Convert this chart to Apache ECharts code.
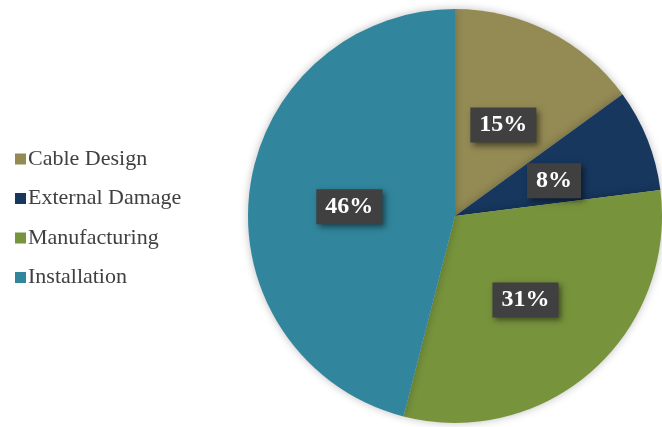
<!DOCTYPE html>
<html><head><meta charset="utf-8">
<script src="https://cdn.jsdelivr.net/npm/echarts@6/dist/echarts.min.js"></script>
<style>html,body{margin:0;padding:0;background:#fff}#c{width:662px;height:427px}</style>
</head><body><div id="c"></div>
<script>
const categories = ['Cable Design', 'External Damage', 'Manufacturing', 'Installation'];
const values = [15, 8, 31, 46];
const colors = ['#948A54', '#17375E', '#77933C', '#31859C'];

const chart = echarts.init(document.getElementById('c'), null, {renderer: 'canvas'});
chart.setOption({
  animation: false,
  backgroundColor: '#ffffff',
  color: colors,
  legend: {
    orient: 'vertical',
    left: 10,
    top: 143,
    itemWidth: 11,
    itemHeight: 11,
    itemGap: 17.5,
    icon: 'rect',
    textStyle: {fontFamily: 'Liberation Serif', fontSize: 22, color: '#404040', lineHeight: 22, padding: [0, 0, 0, -3]},
    data: categories
  },
  series: [{
    type: 'pie',
    center: [455, 216],
    radius: [0, 207],
    startAngle: 90,
    clockwise: true,
    avoidLabelOverlap: false,
    itemStyle: {shadowBlur: 8, shadowColor: 'rgba(0,0,0,0.25)'},
    label: {
      show: true,
      position: 'inside',
      formatter: '{c}%',
      offset: [0, 4],
      fontFamily: 'Liberation Serif',
      fontWeight: 'bold',
      fontSize: 24,
      color: '#ffffff',
      backgroundColor: '#404040',
      padding: [6, 9, 5, 9],
      shadowBlur: 6,
      shadowOffsetX: 3,
      shadowOffsetY: 3,
      shadowColor: 'rgba(0,0,0,0.5)'
    },
    labelLine: {show: false},
    emphasis: {disabled: true},
    data: categories.map((n, i) => ({name: n, value: values[i]}))
  }]
});
</script></body></html>
